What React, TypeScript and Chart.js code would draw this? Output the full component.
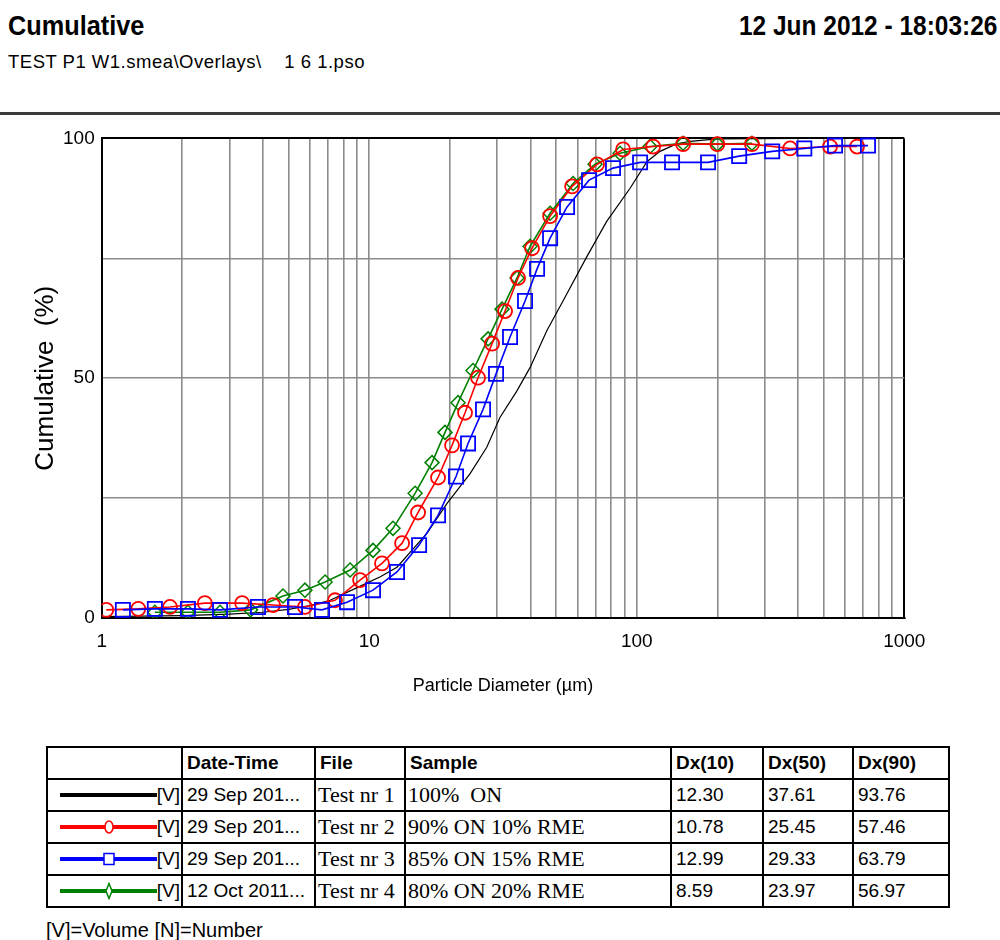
import React, { useEffect, useRef } from 'react';
import { Chart, registerables } from 'chart.js';

Chart.register(...registerables);

// ---------- data ----------
const blackX = [1.0, 2.0, 3.0, 4.0, 5.0, 6.0, 7.14, 9.48, 11.0, 12.7, 16.45, 19.54, 23.82, 27.5, 30.8, 35.6, 39.9, 46.1, 53.0, 65.0, 77.2, 94.41, 109.3, 122.2, 140.0, 158.2, 200.0, 400.0, 800.0];
const blackY = [0.3, 0.5, 0.8, 1.2, 1.8, 2.6, 3.7, 6.9, 8.6, 10.6, 17.7, 23.9, 30.1, 35.6, 41.8, 47.3, 52.2, 59.9, 66.1, 75.3, 82.7, 89.6, 95.2, 97.3, 98.8, 99.4, 99.9, 100, 100];

const redX = [1.04, 1.37, 1.80, 2.43, 3.35, 4.37, 5.75, 7.45, 9.24, 11.16, 13.27, 15.22, 18.08, 20.39, 22.81, 25.51, 28.78, 32.19, 36.0, 40.61, 47.43, 57.31, 71.05, 88.89, 115.1, 149.0, 200.1, 269.5, 374.3, 527.7, 665.8];
const redY = [1.7, 1.9, 2.3, 3.1, 3.1, 2.7, 2.3, 3.7, 7.9, 11.4, 15.6, 22.0, 29.3, 36.0, 42.8, 50.1, 57.2, 64.0, 70.9, 77.1, 83.8, 90.0, 94.6, 97.7, 98.3, 98.8, 98.8, 98.8, 97.9, 98.3, 98.3];

const blueX = [1.2, 1.58, 2.1, 2.77, 3.84, 5.28, 6.66, 8.26, 10.33, 12.7, 15.36, 18.08, 21.11, 23.41, 26.63, 29.79, 33.6, 38.23, 42.4, 47.43, 54.89, 66.33, 81.53, 102.9, 135.5, 184.7, 241.4, 320.8, 422.9, 550.9, 731.6];
const blueY = [1.7, 1.9, 1.9, 1.7, 2.3, 2.3, 1.7, 3.3, 5.8, 9.6, 15.2, 21.4, 29.5, 36.4, 43.5, 50.9, 58.6, 66.1, 72.8, 79.2, 85.7, 91.3, 93.8, 95.0, 95.0, 95.0, 96.3, 97.3, 97.9, 98.5, 98.5];

const greenX = [1.58, 2.1, 2.77, 3.6, 4.76, 5.75, 6.84, 8.48, 10.33, 12.27, 14.84, 17.17, 19.2, 21.48, 24.43, 27.81, 31.37, 35.69, 39.92, 47.43, 57.8, 69.84, 86.62, 112.1, 149.0, 200.1, 269.5];
const greenY = [1.2, 1.2, 1.2, 1.7, 4.6, 5.8, 7.5, 10.0, 14.1, 18.7, 26.0, 32.4, 38.7, 44.9, 51.6, 58.2, 64.4, 70.9, 77.5, 84.4, 90.6, 94.6, 96.9, 98.3, 99.0, 98.8, 99.0];

const xTickValues = [1, 2, 3, 4, 5, 6, 7, 8, 9, 10, 20, 30, 40, 50, 60, 70, 80, 90, 100, 200, 300, 400, 500, 600, 700, 800, 900, 1000];
const xLabelValues = [1, 10, 100, 1000];
const yTickValues = [0, 25, 50, 75, 100];
const yLabelValues = [0, 50, 100];

const tableHeader = ['', 'Date-Time', 'File', 'Sample', 'Dx(10)', 'Dx(50)', 'Dx(90)'];
const rowDates = ['29 Sep 201...', '29 Sep 201...', '29 Sep 201...', '12 Oct 2011...'];
const rowFiles = ['Test nr 1', 'Test nr 2', 'Test nr 3', 'Test nr 4'];
const rowSamples = ['100%  ON', '90% ON 10% RME', '85% ON 15% RME', '80% ON 20% RME'];
const rowDx10 = ['12.30', '10.78', '12.99', '8.59'];
const rowDx50 = ['37.61', '25.45', '29.33', '23.97'];
const rowDx90 = ['93.76', '57.46', '63.79', '56.97'];
const rowColors = ['#000000', '#ff0000', '#0000ff', '#008000'];
const rowMarkers = ['none', 'circle', 'square', 'diamond'];

const SANS = "'Liberation Sans', Arial, sans-serif";
const SERIF = "'Liberation Serif', 'Times New Roman', serif";

const pts = (xs: number[], ys: number[]) => xs.map((x, i) => ({ x, y: ys[i] }));

function Swatch({ color, marker }: { color: string; marker: string }) {
  return (
    <svg width={98} height={18} style={{ display: 'block' }}>
      <line x1={1} y1={9} x2={98} y2={9} stroke={color} strokeWidth={4} />
      {marker === 'circle' && <ellipse cx={50} cy={9} rx={4} ry={6} fill="#fff" stroke={color} strokeWidth={1.5} />}
      {marker === 'square' && <rect x={45} y={3.5} width={10} height={11} fill="#fff" stroke={color} strokeWidth={1.5} />}
      {marker === 'diamond' && <polygon points="50,1.5 53,9 50,16.5 47,9" fill="#fff" stroke={color} strokeWidth={1.5} />}
    </svg>
  );
}

export default function App() {
  const ref = useRef<HTMLCanvasElement>(null);

  useEffect(() => {
    if (!ref.current) return;
    const tickFont = { family: SANS, size: 19 };
    const clipBox = { left: 0, right: 0, top: 4, bottom: 0 };
    const chart = new Chart(ref.current, {
      type: 'line',
      data: {
        datasets: [
          {
            label: 'Test nr 3', data: pts(blueX, blueY), borderColor: '#0000ff', borderWidth: 1.6,
            pointStyle: 'rect', pointRadius: 10, pointBorderWidth: 1.8, pointBorderColor: '#0000ff',
            pointBackgroundColor: 'rgba(0,0,0,0)', tension: 0, clip: clipBox,
          },
          {
            label: 'Test nr 2', data: pts(redX, redY), borderColor: '#ff0000', borderWidth: 1.6,
            pointStyle: 'circle', pointRadius: 7, pointBorderWidth: 1.8, pointBorderColor: '#ff0000',
            pointBackgroundColor: 'rgba(0,0,0,0)', tension: 0, clip: clipBox,
          },
          {
            label: 'Test nr 4', data: pts(greenX, greenY), borderColor: '#008000', borderWidth: 1.6,
            pointStyle: 'rectRot', pointRadius: 7, pointBorderWidth: 1.5, pointBorderColor: '#008000',
            pointBackgroundColor: 'rgba(0,0,0,0)', tension: 0, clip: clipBox,
          },
          {
            label: 'Test nr 1', data: pts(blackX, blackY), borderColor: '#000000', borderWidth: 1.2,
            pointRadius: 0, tension: 0, clip: 0,
          },
        ],
      },
      options: {
        animation: false,
        responsive: false,
        maintainAspectRatio: false,
        layout: { padding: { left: 0, right: 95.7, top: 17, bottom: 0 } },
        plugins: { legend: { display: false }, tooltip: { enabled: false } },
        scales: {
          x: {
            type: 'logarithmic',
            min: 1,
            max: 1000,
            afterBuildTicks: (s: any) => { s.ticks = xTickValues.map((v) => ({ value: v })); },
            afterFit: (s: any) => { s.height = 92; },
            grid: {
              drawTicks: false,
              color: (c: any) => (c.tick && c.tick.value === 1000 ? '#000000' : '#8c8c8c'),
              lineWidth: (c: any) => (c.tick && c.tick.value === 1000 ? 2 : 1.6),
            },
            border: { color: '#000000', width: 2 },
            ticks: {
              autoSkip: false,
              maxRotation: 0,
              padding: 12,
              color: '#000000',
              font: tickFont,
              callback: (v: any) => (xLabelValues.includes(Number(v)) ? String(v) : ''),
            },
            title: {
              display: true,
              text: 'Particle Diameter (µm)',
              color: '#000000',
              font: { family: SANS, size: 18 },
              padding: { top: 0, bottom: 13 },
            },
          },
          y: {
            min: 0,
            max: 100,
            afterBuildTicks: (s: any) => { s.ticks = yTickValues.map((v) => ({ value: v })); },
            afterFit: (s: any) => { s.width = 101.7; },
            grid: {
              drawTicks: false,
              color: (c: any) => (c.tick && c.tick.value === 100 ? '#000000' : '#8c8c8c'),
              lineWidth: (c: any) => (c.tick && c.tick.value === 100 ? 2 : 1.6),
            },
            border: { color: '#000000', width: 2 },
            ticks: {
              padding: 7,
              color: '#000000',
              font: tickFont,
              callback: (v: any) => (yLabelValues.includes(Number(v)) ? String(v) : ''),
            },
            title: {
              display: true,
              text: 'Cumulative  (%)',
              color: '#000000',
              font: { family: SANS, size: 26 },
              padding: { top: 30, bottom: 0 },
            },
          },
        },
      },
    } as any);
    return () => chart.destroy();
  }, []);

  const cell: React.CSSProperties = {
    border: '2px solid #000',
    padding: '0 4px',
    height: 30,
    lineHeight: '30px',
    whiteSpace: 'nowrap',
    overflow: 'hidden',
    fontFamily: SANS,
    fontSize: 19,
    verticalAlign: 'middle',
  };
  const serifCell: React.CSSProperties = { ...cell, fontFamily: SERIF, fontSize: 22, padding: '0 2px', whiteSpace: 'pre' };
  const colW = [135, 133, 90, 266, 92, 90, 96];

  return (
    <div style={{ position: 'absolute', left: 0, top: 0, width: 1000, height: 940, background: '#fff', color: '#000', fontFamily: SANS }}>
      <div style={{ position: 'absolute', left: 8, top: 10.5, fontSize: 27.5, fontWeight: 'bold', lineHeight: '30px', transform: 'scaleX(0.92)', transformOrigin: 'left center', whiteSpace: 'nowrap' }}>Cumulative</div>
      <div style={{ position: 'absolute', right: 3, top: 10.5, fontSize: 27.5, fontWeight: 'bold', lineHeight: '30px', transform: 'scaleX(0.89)', transformOrigin: 'right center', whiteSpace: 'nowrap' }}>12 Jun 2012 - 18:03:26</div>
      <div style={{ position: 'absolute', left: 8, top: 52, fontSize: 18.5, lineHeight: '20px', letterSpacing: '0.5px', whiteSpace: 'pre' }}>
        {'TEST P1 W1.smea\\Overlays\\    1 6 1.pso'}
      </div>
      <div style={{ position: 'absolute', left: 0, top: 112, width: 1000, height: 3, background: '#3a3a3a' }} />
      <canvas ref={ref} width={1000} height={590} style={{ position: 'absolute', left: 0, top: 120, width: 1000, height: 590 }} />
      <table style={{ position: 'absolute', left: 46, top: 746, width: 902, borderCollapse: 'collapse', tableLayout: 'fixed' }}>
        <colgroup>
          {colW.map((w, i) => <col key={i} style={{ width: w }} />)}
        </colgroup>
        <tbody>
          <tr>
            {tableHeader.map((h, i) => (
              <td key={i} style={{ ...cell, fontWeight: 'bold' }}>{h}</td>
            ))}
          </tr>
          {rowDates.map((d, r) => (
            <tr key={r}>
              <td style={{ ...cell, padding: '0 1px 0 2px' }}>
                <div style={{ display: 'flex', alignItems: 'center', justifyContent: 'flex-end', height: 30 }}>
                  <Swatch color={rowColors[r]} marker={rowMarkers[r]} />
                  <span style={{ fontSize: 19, lineHeight: '30px' }}>[V]</span>
                </div>
              </td>
              <td style={cell}>{d}</td>
              <td style={serifCell}>{rowFiles[r]}</td>
              <td style={serifCell}>{rowSamples[r]}</td>
              <td style={cell}>{rowDx10[r]}</td>
              <td style={cell}>{rowDx50[r]}</td>
              <td style={cell}>{rowDx90[r]}</td>
            </tr>
          ))}
        </tbody>
      </table>
      <div style={{ position: 'absolute', left: 46, top: 920, fontSize: 20, lineHeight: '20px' }}>[V]=Volume [N]=Number</div>
    </div>
  );
}
